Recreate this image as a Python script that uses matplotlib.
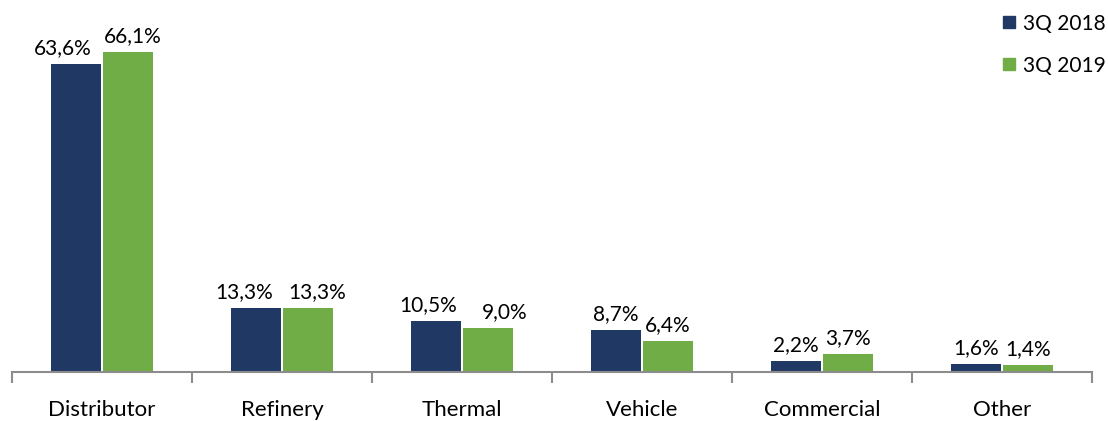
import matplotlib
matplotlib.use("Agg")
import matplotlib.pyplot as plt
import numpy as np

categories = ["Distributor", "Refinery", "Thermal", "Vehicle", "Commercial", "Other"]
series_names = ["3Q 2018", "3Q 2019"]
values_2018 = [63.6, 13.3, 10.5, 8.7, 2.2, 1.6]
values_2019 = [66.1, 13.3, 9.0, 6.4, 3.7, 1.4]
colors = ["#203864", "#70AD47"]

# sideways nudges (pixels) of the value labels, as placed in the original
nudge_2018 = [-13, -12, -8, 0, 0, 0]
nudge_2019 = [5, 9, 17, 0, 0, 0]

plt.rcParams["font.family"] = ["Lato", "DejaVu Sans"]

fig = plt.figure(figsize=(11.08, 4.21), dpi=100)
ax = fig.add_axes([12 / 1108, 1 - 372 / 421, 1080 / 1108, 372 / 421])

x = np.arange(len(categories))
w = 50 / 180
gap = 2 / 180
px = 72 / 100  # points per pixel
for vals, nudges, off, col, name in [
        (values_2018, nudge_2018, -(w + gap) / 2, colors[0], series_names[0]),
        (values_2019, nudge_2019, (w + gap) / 2, colors[1], series_names[1])]:
    bars = ax.bar(x + off, vals, width=w, color=col, label=name)
    for b, v, n in zip(bars, vals, nudges):
        ax.annotate(f"{v:.1f}".replace(".", ",") + "%",
                    (b.get_x() + b.get_width() / 2, v),
                    xytext=(n * px, 10 * px), textcoords="offset points",
                    ha="center", va="baseline", fontsize=15)

ax.set_xlim(-0.5, len(categories) - 0.5)
ax.set_ylim(0, 372 / 4.84)
ax.set_yticks([])
for s in ["top", "right", "left"]:
    ax.spines[s].set_visible(False)
ax.spines["bottom"].set_color("#8c8c8c")
ax.spines["bottom"].set_linewidth(1.5)

ax.set_xticks(np.arange(len(categories) + 1) - 0.5, minor=False)
ax.set_xticklabels([])
ax.tick_params(axis="x", which="major", length=8, width=1.5, color="#8c8c8c")
ax.set_xticks(x, minor=True)
ax.set_xticklabels(categories, minor=True, fontsize=16)
ax.tick_params(axis="x", which="minor", length=0, pad=20)

handles = [plt.Line2D([], [], marker="s", linestyle="", markersize=8, color=c) for c in colors]
fig.legend(handles, series_names, loc="upper right", bbox_to_anchor=(1.015, 1.012),
           frameon=False, fontsize=15, handletextpad=0.2, labelspacing=1.05,
           handlelength=1.0)

fig.savefig("out.png", dpi=100)
